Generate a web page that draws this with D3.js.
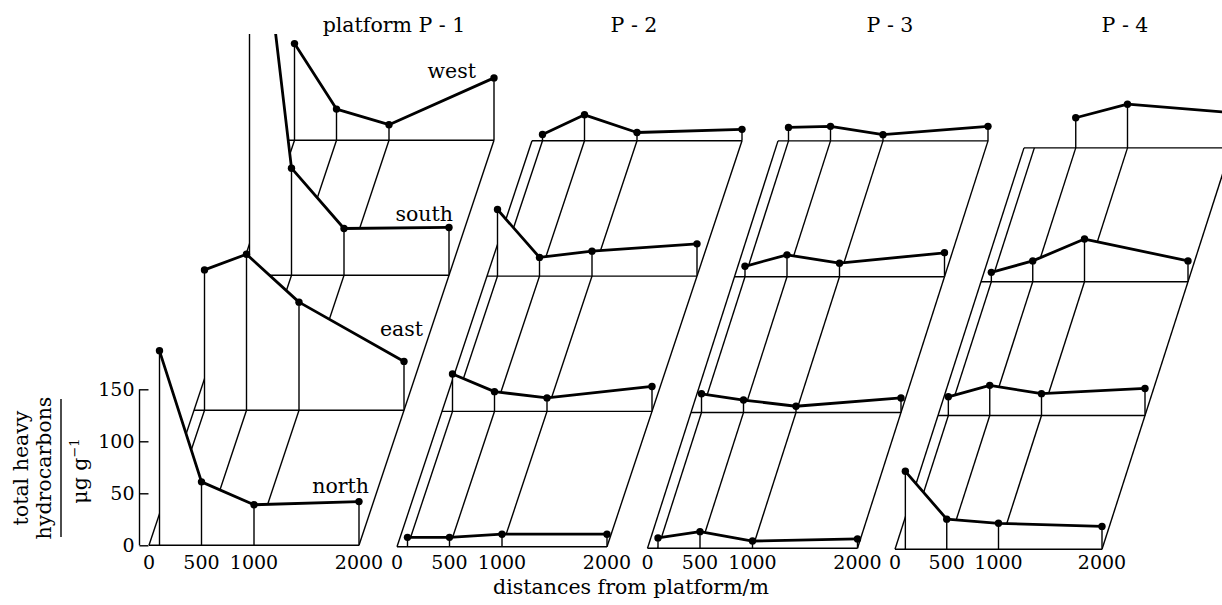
<!DOCTYPE html>
<html>
<head>
<meta charset="utf-8">
<script src="https://cdn.jsdelivr.net/npm/d3@7"></script>
<style>
  body { margin: 0; background: #fff; }
  svg { display: block; }
  text { font-family: "DejaVu Serif", "Liberation Serif", serif; fill: #000; }
</style>
</head>
<body>
<svg id="chart" width="1222" height="605"></svg>
<script>
// Sampling distances (m) and the marks on the receding floor grid
const distances = [100, 500, 1000, 2000];
const gridMarks = [0, 100, 500, 1000, 2000];
const xTickValues = [0, 500, 1000, 2000];
const yTickValues = [0, 50, 100, 150];
const directions = ["north", "east", "south", "west"];
const platformTitles = ["platform P - 1", "P - 2", "P - 3", "P - 4"];

// Total heavy hydrocarbons (µg g⁻¹) at 100, 500, 1000 and 2000 m
const p1North = [187, 61, 39, 42];
const p1East  = [135, 150, 104, 47];
const p1South = [445, 103, 45, 46];
const p1West  = [93, 30, 15, 60];

const p2North = [9, 9, 12, 12];
const p2East  = [36, 19, 13, 24];
const p2South = [64, 18, 24, 31];
const p2West  = [6, 25, 8, 11];

const p3North = [10, 16, 7, 9];
const p3East  = [18, 12, 6, 14];
const p3South = [10, 21, 13, 23];
const p3West  = [13, 14, 6, 14];

const p4North = [75, 29, 25, 22];
const p4East  = [18, 29, 21, 26];
const p4South = [9, 20, 41, 20];
const p4West  = [null, 29, 42, 34];

const platformSeries = [
  [p1North, p1East, p1South, p1West],
  [p2North, p2East, p2South, p2West],
  [p3North, p3East, p3South, p3West],
  [p4North, p4East, p4South, p4West]
];

// ---- layout of the oblique panels ----
// origin = 0 m on the front (north) baseline; shift = offset from one plane to the next one behind
const panels = [
  { origin: [149, 545.3], width: 210, shift: [45, 135.0], titleX: 394 },
  { origin: [397, 546.7], width: 210, shift: [45, 135.3], titleX: 634 },
  { origin: [647.5, 548.3], width: 210, shift: [43.5, 135.8], titleX: 890 },
  { origin: [895, 549.3], width: 207, shift: [43, 133.8], titleX: 1125 }
];
// direction labels, only on the first panel: [right edge x, baseline y]
const directionLabelPos = [[369, 493], [423, 336], [453, 221], [476, 78]];

const valueHeight = d3.scaleLinear().domain([0, 150]).range([0, 156]);

const THIN = 1.4, THICK = 2.8, DOT = 3.7;
const LABEL_SIZE = 20.5;

const svg = d3.select("#chart");

const defs = svg.append("defs");
defs.append("clipPath").attr("id", "plotClip")
  .append("rect").attr("x", 0).attr("y", 34).attr("width", 1222).attr("height", 571);

const plot = svg.append("g").attr("clip-path", "url(#plotClip)");

panels.forEach((p, pi) => {
  const [ox, oy] = p.origin;
  const [dx, dy] = p.shift;
  const xs = d3.scaleLinear().domain([0, 2000]).range([0, p.width]);
  const g = plot.append("g");

  // floor grid: straight lines running from the front baseline to the back baseline
  g.selectAll("line.floor").data(gridMarks).join("line")
    .attr("class", "floor")
    .attr("x1", d => ox + xs(d)).attr("y1", oy)
    .attr("x2", d => ox + xs(d) + 3 * dx).attr("y2", oy - 3 * dy)
    .attr("stroke", "#000").attr("stroke-width", THIN);

  // vertical profiles, painted back (west) to front (north) so each hides what lies behind it
  for (let k = 3; k >= 0; k--) {
    const bx = ox + k * dx, by = oy - k * dy;
    const vals = platformSeries[pi][k];
    const pts = distances
      .map((d, i) => vals[i] == null ? null : [bx + xs(d), by - valueHeight(vals[i])])
      .filter(v => v !== null);
    const pg = g.append("g").attr("class", "plane " + directions[k]);

    const area = [[pts[0][0], by], ...pts, [pts[pts.length - 1][0], by]];
    pg.append("path")
      .attr("d", d3.line()(area) + "Z")
      .attr("fill", "#fff").attr("stroke", "none");

    pg.append("line")
      .attr("x1", bx + xs(0)).attr("x2", bx + xs(2000))
      .attr("y1", by).attr("y2", by)
      .attr("stroke", "#000").attr("stroke-width", THIN);

    pg.selectAll("line.drop").data(pts).join("line")
      .attr("class", "drop")
      .attr("x1", d => d[0]).attr("x2", d => d[0])
      .attr("y1", d => d[1]).attr("y2", by)
      .attr("stroke", "#000").attr("stroke-width", THIN);

    pg.append("path")
      .attr("d", d3.line()(pts))
      .attr("fill", "none").attr("stroke", "#000")
      .attr("stroke-width", THICK).attr("stroke-linejoin", "round");

    pg.selectAll("circle").data(pts).join("circle")
      .attr("cx", d => d[0]).attr("cy", d => d[1]).attr("r", DOT)
      .attr("fill", "#000");
  }

  // distance tick labels under the front baseline
  svg.append("g").selectAll("text").data(xTickValues).join("text")
    .attr("x", d => ox + xs(d)).attr("y", 569)
    .attr("text-anchor", "middle")
    .attr("font-size", 19)
    .text(d => d);

  // panel title
  svg.append("text")
    .attr("x", p.titleX).attr("y", 32)
    .attr("text-anchor", "middle")
    .attr("font-size", LABEL_SIZE)
    .attr("xml:space", "preserve")
    .text(platformTitles[pi]);
});

// direction names on the first panel
svg.append("g").selectAll("text").data(directions).join("text")
  .attr("x", (d, i) => directionLabelPos[i][0])
  .attr("y", (d, i) => directionLabelPos[i][1])
  .attr("text-anchor", "end")
  .attr("font-size", LABEL_SIZE)
  .text(d => d);

// value axis on the front plane of the first panel
const yAxisScale = d3.scaleLinear().domain([0, 150])
  .range([panels[0].origin[1], panels[0].origin[1] - valueHeight(150)]);
const axisG = svg.append("g")
  .attr("transform", "translate(139.5,0)")
  .call(d3.axisLeft(yAxisScale).tickValues(yTickValues).tickSize(-9).tickPadding(5));
axisG.select(".domain").remove();
axisG.attr("font-family", null).attr("font-size", 19);
axisG.selectAll(".tick line").attr("stroke", "#000").attr("stroke-width", THIN);
axisG.append("line")
  .attr("x1", 0).attr("x2", 0)
  .attr("y1", yAxisScale(0)).attr("y2", yAxisScale(150))
  .attr("stroke", "#000").attr("stroke-width", THIN);

// axis title: quantity over unit, set vertically
const yTitle = svg.append("g").attr("transform", "translate(0,468) rotate(-90)");
yTitle.append("text").attr("x", 0).attr("y", 28).attr("text-anchor", "middle")
  .attr("font-size", LABEL_SIZE).text("total heavy");
yTitle.append("text").attr("x", 0).attr("y", 51).attr("text-anchor", "middle")
  .attr("font-size", LABEL_SIZE).text("hydrocarbons");
yTitle.append("line").attr("x1", -69).attr("x2", 69).attr("y1", 61).attr("y2", 61)
  .attr("stroke", "#000").attr("stroke-width", THIN);
const unit = yTitle.append("text").attr("x", -3).attr("y", 87).attr("text-anchor", "middle")
  .attr("font-size", LABEL_SIZE);
unit.append("tspan").text("μg g");
unit.append("tspan").attr("dy", -8).attr("font-size", 13).text("−1");

svg.append("text")
  .attr("x", 631).attr("y", 594)
  .attr("text-anchor", "middle")
  .attr("font-size", LABEL_SIZE)
  .text("distances from platform/m");
</script>
</body>
</html>
